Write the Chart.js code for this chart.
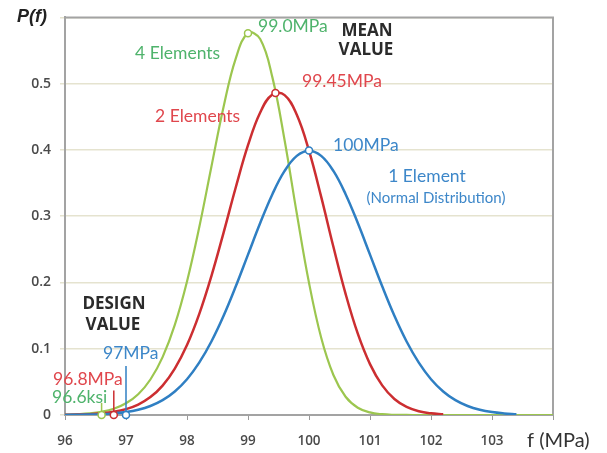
<!DOCTYPE html>
<html>
<head>
<meta charset="utf-8">
<script src="https://cdn.jsdelivr.net/npm/chart.js@4"></script>
<style>
  body { margin: 0; background: #fff; }
  canvas { display: block; }
</style>
</head>
<body>
<canvas id="pdfChart" width="607" height="453"></canvas>
<script>

// stress f (MPa) sampled every 0.2
const fStress = [96.0, 96.2, 96.4, 96.6, 96.8, 97.0, 97.2, 97.4, 97.6, 97.8,
  98.0, 98.2, 98.4, 98.6, 98.8, 99.0, 99.2, 99.4, 99.6, 99.8,
  100.0, 100.2, 100.4, 100.6, 100.8, 101.0, 101.2, 101.4, 101.6, 101.8,
  102.0, 102.2, 102.4, 102.6, 102.8, 103.0, 103.2, 103.4, 103.6, 103.8, 104.0];

// P(f) for 1, 2 and 4 elements
const oneElement = [0.0001, 0.0003, 0.0006, 0.0012, 0.0024, 0.0044, 0.0079, 0.0136, 0.0224, 0.0355,
  0.0540, 0.0790, 0.1109, 0.1497, 0.1942, 0.2420, 0.2897, 0.3332, 0.3683, 0.3910,
  0.3989, 0.3910, 0.3683, 0.3332, 0.2897, 0.2420, 0.1942, 0.1497, 0.1109, 0.0790,
  0.0540, 0.0355, 0.0224, 0.0136, 0.0079, 0.0044, 0.0024, 0.0012, null, null, null];

const twoElements = [0.0003, 0.0006, 0.0012, 0.0025, 0.0048, 0.0089, 0.0158, 0.0270, 0.0444, 0.0700,
  0.1055, 0.1522, 0.2097, 0.2753, 0.3437, 0.4072, 0.4566, 0.4837, 0.4827, 0.4530,
  0.3989, 0.3291, 0.2538, 0.1828, 0.1227, 0.0768, 0.0447, 0.0242, 0.0122, 0.0057,
  0.0025, 0.0010, null, null, null, null, null, null, null, null, null];

const fourElements = [0.0005, 0.0012, 0.0024, 0.0049, 0.0095, 0.0177, 0.0314, 0.0536, 0.0874, 0.1361,
  0.2016, 0.2830, 0.3747, 0.4652, 0.5383, 0.5764, 0.5673, 0.5095, 0.4147, 0.3040,
  0.1995, 0.1165, 0.0603, 0.0275, 0.0110, 0.0039, 0.0012, 0.0003, 0.0001, 0,
  0, 0, 0, 0, 0, 0, 0, 0, 0, 0, 0];

// mean values (peak markers): 1, 2, 4 elements
const meanValue = [100, 99.45, 99.0];
const meanDensity = [0.399, 0.486, 0.576];

// design values on the axis, with the height of their leader lines
const designValue = [97.0, 96.8, 96.6];
const designLeader = [0.074, 0.037, 0.018];

const yTicks = [0, 0.1, 0.2, 0.3, 0.4, 0.5];
const xTicks = [96, 97, 98, 99, 100, 101, 102, 103];

const BLUE = '#2f7fc3';
const RED = '#cc2e31';
const GREEN = '#9cc64f';
const BLUE_TXT = '#3d87c9';
const RED_TXT = '#e0474d';
const GREEN_TXT = '#4fb36c';

function curve(vals) {
  const pts = [];
  vals.forEach((v, i) => { if (v !== null) pts.push({x: fStress[i], y: v}); });
  return pts;
}

function lineSet(vals, color, width) {
  return {
    data: curve(vals),
    showLine: true,
    borderColor: color,
    borderWidth: width,
    pointRadius: 0,
    tension: 0.4,
    order: 2
  };
}

const colors = [BLUE, RED, GREEN];
const datasets = [
  lineSet(oneElement, BLUE, 2.5),
  lineSet(twoElements, RED, 2.5),
  lineSet(fourElements, GREEN, 2.2)
];

// leader lines above the design values
designValue.forEach((d, i) => {
  datasets.push({
    data: [{x: d, y: 0}, {x: d, y: designLeader[i]}],
    showLine: true,
    borderColor: colors[i],
    borderWidth: 1.5,
    pointRadius: 0,
    order: 1
  });
});

// open circles at mean and design values
meanValue.forEach((m, i) => {
  datasets.push({
    data: [{x: m, y: meanDensity[i]}, {x: designValue[i], y: 0}],
    showLine: false,
    pointRadius: 3.5,
    pointBorderWidth: 1.5,
    pointBorderColor: colors[i],
    pointBackgroundColor: '#fff',
    clip: false,
    order: 0
  });
});

// frame on top and right of the plot
const framePlugin = {
  id: 'frame',
  beforeDatasetsDraw(chart) {
    const a = chart.chartArea;
    const ctx = chart.ctx;
    ctx.save();
    ctx.strokeStyle = '#a3a3a3';
    ctx.lineWidth = 2;
    ctx.beginPath();
    ctx.moveTo(a.left, a.top);
    ctx.lineTo(a.right, a.top);
    ctx.lineTo(a.right, a.bottom);
    ctx.stroke();
    ctx.restore();
  }
};

const BOLD = 'bold 17px "Open Sans"';
const labels = [
  {t: 'P(f)', x: 17, y: 17, c: '#222', f: 'italic bold 18px "Liberation Sans"'},
  {t: '99.0MPa', x: 258, y: 26, c: GREEN_TXT},
  {t: 'MEAN', x: 367, y: 31, c: '#2b2b2b', f: BOLD, a: 'center'},
  {t: 'VALUE', x: 366, y: 50, c: '#2b2b2b', f: BOLD, a: 'center'},
  {t: '4 Elements', x: 135, y: 53, c: GREEN_TXT},
  {t: '99.45MPa', x: 302, y: 81, c: RED_TXT},
  {t: '2 Elements', x: 155, y: 116, c: RED_TXT},
  {t: '100MPa', x: 333, y: 145, c: BLUE_TXT},
  {t: '1 Element', x: 427, y: 176, c: BLUE_TXT, a: 'center'},
  {t: '(Normal Distribution)', x: 436, y: 198, c: BLUE_TXT, f: '15px Lato', a: 'center'},
  {t: 'DESIGN', x: 114, y: 304, c: '#2b2b2b', f: BOLD, a: 'center'},
  {t: 'VALUE', x: 113, y: 325, c: '#2b2b2b', f: BOLD, a: 'center'},
  {t: '97MPa', x: 103, y: 353, c: BLUE_TXT},
  {t: '96.8MPa', x: 53, y: 379, c: RED_TXT},
  {t: '96.6ksi', x: 52, y: 397, c: GREEN_TXT},
  {t: 'f (MPa)', x: 527, y: 441, c: '#333', f: '20px Lato'}
];

const textPlugin = {
  id: 'notes',
  afterDatasetsDraw(chart) {
    const ctx = chart.ctx;
    ctx.save();
    ctx.textBaseline = 'middle';
    labels.forEach(l => {
      ctx.font = l.f || '17.5px Lato';
      ctx.fillStyle = l.c;
      ctx.textAlign = l.a || 'left';
      ctx.fillText(l.t, l.x, l.y);
    });
    ctx.restore();
  }
};

new Chart(document.getElementById('pdfChart'), {
  type: 'scatter',
  data: { datasets: datasets },
  options: {
    responsive: false,
    animation: false,
    layout: { padding: { top: 7, right: 54, left: 0, bottom: 0 } },
    plugins: { legend: { display: false }, tooltip: { enabled: false } },
    scales: {
      x: {
        type: 'linear',
        min: 96, max: 104,
        afterFit(scale) { scale.height = 38; },
        afterBuildTicks(scale) { scale.ticks = xTicks.concat([104]).map(v => ({value: v})); },
        ticks: {
          callback: v => xTicks.includes(v) ? String(v) : '',
          color: '#4a4a4a',
          font: { size: 13.5, family: 'Open Sans', weight: '600' },
          padding: 13,
          maxRotation: 0
        },
        grid: { drawOnChartArea: false, drawTicks: true, tickLength: 5, color: '#9a9a9a' },
        border: { color: '#a3a3a3', width: 2 }
      },
      y: {
        min: 0, max: 0.6,
        afterFit(scale) { scale.width = 65; },
        afterBuildTicks(scale) { scale.ticks = yTicks.concat([0.6]).map(v => ({value: v})); },
        ticks: {
          callback: v => yTicks.includes(v) ? (v === 0 ? '0' : v.toFixed(1)) : '',
          color: '#4a4a4a',
          font: { size: 14, family: 'Open Sans', weight: '600' },
          padding: 9
        },
        grid: { color: '#e5e3cf', lineWidth: 1.5, tickLength: 5 },
        border: { color: '#a3a3a3', width: 2 }
      }
    }
  },
  plugins: [framePlugin, textPlugin]
});
</script>
</body>
</html>
